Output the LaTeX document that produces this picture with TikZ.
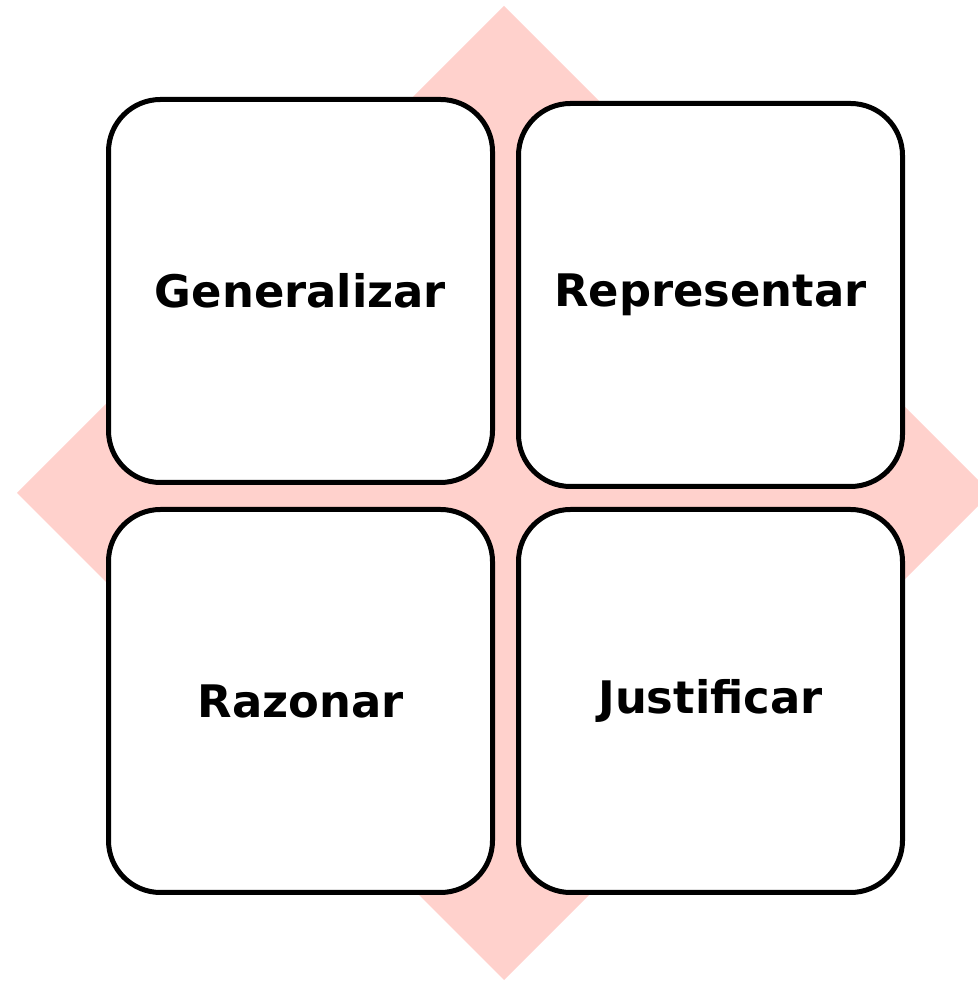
\documentclass[tikz,border=0pt]{standalone}
\usepackage{fontspec}
\setmainfont{DejaVu Sans}
\usepackage{tikz}
\usetikzlibrary{positioning}
\definecolor{diamondpink}{RGB}{255,209,204}
\tikzset{skill/.style={draw=black,fill=white,line width=5bp,rounded corners=52bp,
    minimum width=384bp,minimum height=383bp,inner sep=0pt,
    font=\fontsize{45}{54}\selectfont\bfseries}}

\begin{document}
\begin{tikzpicture}[>=latex,line join=bevel,]
%%
\useasboundingbox (0bp,0bp) rectangle (978bp,981bp);
\clip (0bp,0bp) rectangle (978bp,981bp);
\fill [diamondpink] (504bp,975bp) -- (991bp,488bp) -- (504bp,1bp) -- (17bp,488bp) -- cycle;
%
\node (node_0) at (300.5bp,690bp) [skill] {Generalizar};
  \node (node_1) at (710.5bp,686bp) [skill] {Representar};
  \node (node_2) at (300.5bp,280bp) [skill] {Razonar};
  \node (node_3) at (710.5bp,280bp) [skill] {Justificar};
%
\end{tikzpicture}
\end{document}
